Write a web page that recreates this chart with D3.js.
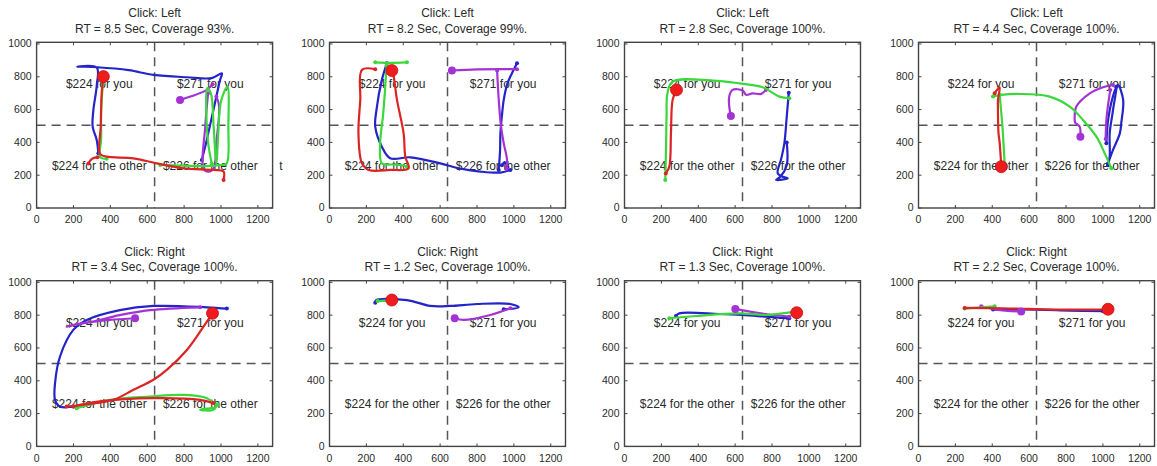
<!DOCTYPE html>
<html>
<head>
    <meta charset="UTF-8">
    <title>Mouse trajectories</title>
    <script src="https://d3js.org/d3.v7.min.js"></script>
    <style>
        body { margin: 0; background: #fff; font-family: "Liberation Sans", Arial, sans-serif; }
        .frame { fill: none; stroke: #444; stroke-width: 1.4px; }
        .tick { stroke: #444; stroke-width: 1px; }
        .divider { stroke: #555; stroke-width: 1.5px; stroke-dasharray: 9 6; }
        .traj { fill: none; stroke-width: 2.2px; stroke-linejoin: round; stroke-linecap: round; }
        text { fill: #2a2a2a; }
    </style>
</head>
<body>
    <svg id="chart"></svg>
    <script>
        const width = 1157;
        const height = 466;

        // titles
        const clickSides = ["Left", "Left", "Left", "Left", "Right", "Right", "Right", "Right"];
        const rtSeconds = [8.5, 8.2, 2.8, 4.4, 3.4, 1.2, 1.3, 2.2];
        const coverage = [93, 99, 100, 100, 100, 100, 100, 100];

        // axes
        const xTicks = [0, 200, 400, 600, 800, 1000, 1200];
        const yTicks = [0, 200, 400, 600, 800, 1000];
        const xMax = 1280;
        const yMax = 1010;
        const splitX = 640;
        const splitY = 505;

        // quadrant labels (screen coords)
        const quadText = ["$224 for you", "$271 for you", "$224 for the other", "$226 for the other"];
        const quadX = [340, 942, 340, 942];
        const quadY = [755, 755, 258, 258];

        // trajectories: one list of segments per panel
        const bluePaths = [
            [[[335,333],[326,415],[304,496],[308,598],[326,744],[326,856],[221,862],[330,858],[500,840],[634,811],[815,797],[950,792],[1005,821],[995,780],[959,598],[923,415],[896,293]]],
            [[[311,882],[284,781],[255,600],[248,496],[284,374],[329,303],[438,309],[601,272],[700,242],[818,222],[927,216],[981,232]],
             [[918,232],[925,350],[927,455],[935,560],[945,659],[965,760],[981,801],[1017,882]],
             [[935,260],[950,280],[965,250]]],
            [[[891,703],[880,557],[867,394],[850,300],[831,211],[858,191],[885,181],[822,171],[845,190],[880,260],[880,400]]],
            [[[1028,260],[1037,313],[1037,455],[1050,560],[1064,659],[1082,750],[1110,659],[1100,520],[1092,455],[1055,354],[1028,272]],
             [[1019,394],[1030,550],[1060,700],[1075,740]]],
            [[[1032,840],[923,848],[634,856],[452,831],[272,771],[199,710],[127,548],[100,385],[100,284],[127,243],[199,243]]],
            [[[248,876],[253,892],[420,892],[547,856],[656,856],[800,868],[981,868],[1026,848],[945,836]]],
            [[[279,795],[297,811],[514,807],[641,801],[767,791],[894,781]]],
            [[[404,834],[639,834],[820,828],[1001,824]]]
        ];
        const purplePaths = [
            [[[778,659],[923,720],[955,755]],
             [[930,700],[915,500],[905,240],[930,222],[960,240],[975,400],[990,620],[975,680]]],
            [[[664,838],[800,845],[1017,846]],
             [[909,838],[918,659],[930,500],[945,394],[963,293],[960,240]]],
            [[[577,561],[568,620],[568,680],[586,720],[641,716],[659,690],[695,699],[740,695],[767,720]]],
            [[[878,435],[874,496],[850,520],[847,557],[856,618],[929,699],[1001,736],[1055,750]],
             [[1040,720],[1020,550],[1015,420]]],
            [[[534,781],[344,765],[200,740],[163,730],[220,745],[300,760],[450,800],[615,831],[887,848]]],
            [[[679,781],[728,771],[872,801],[981,842]]],
            [[[601,838],[740,811],[894,791]]],
            [[[557,822],[422,834],[340,854]]]
        ];
        const greenPaths = [
            [[[360,760],[350,600],[350,420],[345,310],[380,300]],
             [[670,262],[800,258],[920,255],[1000,262],[1030,270],[1040,500],[1035,740],[1000,650],[985,450],[975,265],[960,500],[945,700],[925,730],[920,600],[930,400],[950,270]]],
            [[[248,888],[330,885],[420,888]],
             [[310,870],[300,700],[290,560],[275,400],[284,272],[340,265],[384,262],[420,252]]],
            [[[221,171],[225,350],[228,557],[233,699],[261,770],[478,777],[623,760],[749,736],[840,679],[894,669]]],
            [[[404,679],[449,689],[548,695],[711,679],[820,618],[892,537],[965,435],[1010,333],[1046,242]],
             [[440,690],[455,500],[467,272]]],
            [[[217,233],[398,284],[615,304],[796,314],[923,294],[977,243],[920,230],[887,223],[959,223],[980,255]]],
            [[[261,886],[329,888]]],
            [[[243,781],[387,795],[623,811],[767,801],[930,821]]],
            [[[250,840],[413,854]]]
        ];
        const redPaths = [
            [[[362,801],[353,700],[348,500],[344,330],[380,313],[525,303],[652,272],[796,242],[959,232],[1014,222],[1014,171]],
             [[281,272],[300,300],[330,310]]],
            [[[248,846],[176,842],[167,659],[157,455],[176,272],[212,232],[329,232],[429,242],[411,313],[402,455],[366,659],[348,801],[338,838]]],
            [[[282,720],[261,659],[252,455],[243,252],[224,211]]],
            [[[449,252],[440,400],[434,455],[431,600],[431,659],[440,736],[413,699]]],
            [[[954,811],[905,730],[815,588],[706,466],[634,406],[525,345],[416,284],[253,254],[163,243]],
             [[199,243],[344,274],[634,294],[887,284],[959,264]]],
            [],
            [],
            [[[250,844],[458,842],[748,834],[965,834],[1028,836]]]
        ];
        // big markers
        const redMarks = [[362,801],[338,838],[282,720],[449,252],[954,811],[338,892],[934,815],[1028,836]];
        const purpleMarks = [[778,659],[664,838],[577,561],[878,435],[534,781],[679,781],[601,838],[557,822]];

        const colors = { blue: "#2424c8", purple: "#a433d6", green: "#3ad83a", red: "#dc2424" };

        const panelLeft = [36.6, 329.5, 624.5, 918.5];
        const panelTop = [42.3, 280.7];
        const plotW = 236;
        const plotH = 165.7;

        const svg = d3.select("#chart")
            .attr("width", width)
            .attr("height", height);

        const x = d3.scaleLinear().domain([0, xMax]).range([0, plotW]);
        const y = d3.scaleLinear().domain([0, yMax]).range([plotH, 0]);
        const line = d3.line()
            .x(d => x(d[0])).y(d => y(d[1]))
            .curve(d3.curveCatmullRom.alpha(0.5));

        clickSides.forEach((side, i) => {
            const col = i % 4, row = Math.floor(i / 4);
            const g = svg.append("g")
                .attr("transform", `translate(${panelLeft[col]},${panelTop[row]})`);

            // titles
            g.append("text")
                .attr("x", plotW / 2).attr("y", -25)
                .attr("text-anchor", "middle")
                .attr("font-size", 12)
                .text(`Click: ${side}`);
            g.append("text")
                .attr("x", plotW / 2).attr("y", -9.5)
                .attr("text-anchor", "middle")
                .attr("font-size", 12)
                .text(`RT = ${rtSeconds[i].toFixed(1)} Sec, Coverage ${coverage[i]}%.`);

            // ticks on all four sides, pointing inward
            g.selectAll(".xt").data(xTicks).join("line")
                .attr("class", "tick")
                .attr("x1", d => x(d)).attr("x2", d => x(d))
                .attr("y1", plotH).attr("y2", plotH - 3);
            g.selectAll(".xtt").data(xTicks).join("line")
                .attr("class", "tick")
                .attr("x1", d => x(d)).attr("x2", d => x(d))
                .attr("y1", 0).attr("y2", 3);
            g.selectAll(".yt").data(yTicks).join("line")
                .attr("class", "tick")
                .attr("x1", 0).attr("x2", 3)
                .attr("y1", d => y(d)).attr("y2", d => y(d));
            g.selectAll(".ytr").data(yTicks).join("line")
                .attr("class", "tick")
                .attr("x1", plotW).attr("x2", plotW - 3)
                .attr("y1", d => y(d)).attr("y2", d => y(d));

            g.append("g").selectAll("text").data(xTicks).join("text")
                .attr("x", d => x(d)).attr("y", plotH + 15.5)
                .attr("text-anchor", "middle")
                .attr("font-size", 10.5)
                .text(d => d);
            g.append("g").selectAll("text").data(yTicks).join("text")
                .attr("x", -5).attr("y", d => y(d) + 3.5)
                .attr("text-anchor", "end")
                .attr("font-size", 10.5)
                .text(d => d);

            // quadrant dividers
            g.append("line").attr("class", "divider")
                .attr("x1", 0).attr("x2", plotW)
                .attr("y1", y(splitY)).attr("y2", y(splitY));
            g.append("line").attr("class", "divider")
                .attr("x1", x(splitX)).attr("x2", x(splitX))
                .attr("y1", 0).attr("y2", plotH);

            // quadrant labels
            quadText.forEach((t, k) => {
                g.append("text")
                    .attr("x", x(quadX[k])).attr("y", y(quadY[k]))
                    .attr("dy", "0.35em")
                    .attr("text-anchor", "middle")
                    .attr("font-size", 12)
                    .text(t);
            });

            // trajectories
            const sets = [["blue", bluePaths], ["purple", purplePaths], ["green", greenPaths], ["red", redPaths]];
            sets.forEach(([name, paths]) => {
                const segs = paths[i];
                g.append("g").selectAll("path").data(segs).join("path")
                    .attr("class", "traj")
                    .attr("stroke", colors[name])
                    .attr("d", line);
                const ends = segs.flatMap(s => [s[0], s[s.length - 1]]);
                g.append("g").selectAll("circle").data(ends).join("circle")
                    .attr("cx", d => x(d[0])).attr("cy", d => y(d[1]))
                    .attr("r", 2)
                    .attr("fill", colors[name]);
            });

            g.append("circle")
                .attr("cx", x(purpleMarks[i][0])).attr("cy", y(purpleMarks[i][1]))
                .attr("r", 4)
                .attr("fill", colors.purple);
            g.append("circle")
                .attr("cx", x(redMarks[i][0])).attr("cy", y(redMarks[i][1]))
                .attr("r", 6)
                .attr("fill", "#ee1c1c")
                .attr("stroke", "#c01010")
                .attr("stroke-width", 0.8);

            g.append("rect").attr("class", "frame")
                .attr("width", plotW).attr("height", plotH);
        });

        // stray character to the right of the first panel
        svg.append("text")
            .attr("x", 281).attr("y", 170)
            .attr("text-anchor", "middle")
            .attr("font-size", 12)
            .text("t");
    </script>
</body>
</html>
